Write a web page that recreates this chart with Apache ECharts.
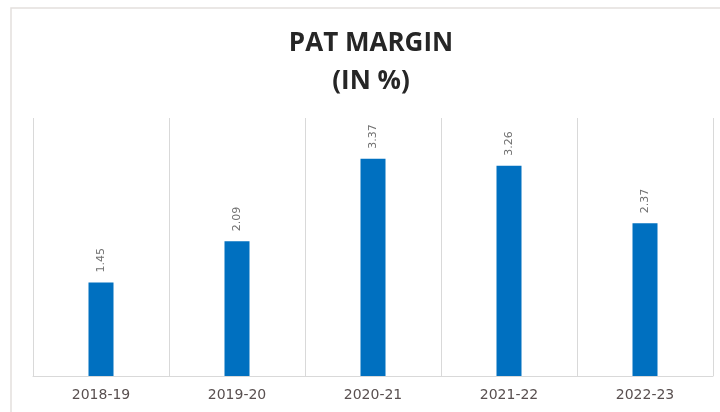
<!DOCTYPE html>
<html>
<head>
<meta charset="utf-8">
<script src="https://cdn.jsdelivr.net/npm/echarts@6/dist/echarts.min.js"></script>
<style>
  html, body { margin: 0; padding: 0; background: #fff; }
  #main { width: 720px; height: 412px; }
</style>
</head>
<body>
<div id="main"></div>
<script>
// data
const years = ['2018-19', '2019-20', '2020-21', '2021-22', '2022-23'];
const patMargin = [1.45, 2.09, 3.37, 3.26, 2.37];

const chart = echarts.init(document.getElementById('main'));

const option = {
    backgroundColor: '#fff',
    animation: false,
    title: {
        text: 'PAT MARGIN\n(IN %)',
        left: 366,
        textAlign: 'center',
        top: 20,
        textStyle: {
            fontFamily: 'Open Sans',
            fontWeight: 'bold',
            fontSize: 26,
            lineHeight: 38,
            color: '#262626'
        }
    },
    // light frame around the chart area (top and left edges visible)
    graphic: [{
        type: 'polyline',
        shape: {points: [[11, 412], [11, 8], [720, 8]]},
        style: {stroke: '#e3e0dd', lineWidth: 1.5, fill: null},
        silent: true
    }],
    grid: {
        left: 33,
        right: 7,
        top: 118,
        bottom: 36
    },
    xAxis: {
        type: 'category',
        data: years,
        axisLine: {lineStyle: {color: '#d9d9d9'}},
        axisTick: {show: false},
        splitLine: {show: true, lineStyle: {color: '#d9d9d9', width: 1}},
        axisLabel: {
            color: '#595050',
            fontFamily: 'DejaVu Sans',
            fontSize: 14,
            margin: 12
        }
    },
    yAxis: {
        type: 'value',
        min: 0,
        max: 4,
        show: false
    },
    series: [{
        name: 'PAT Margin',
        type: 'bar',
        data: patMargin,
        barWidth: 25,
        itemStyle: {color: '#0070C0'},
        label: {
            show: true,
            position: 'top',
            rotate: 90,
            align: 'left',
            verticalAlign: 'middle',
            distance: 10,
            color: '#707070',
            fontFamily: 'DejaVu Sans',
            fontSize: 11,
            formatter: p => p.value.toFixed(2)
        }
    }]
};

chart.setOption(option);
</script>
</body>
</html>
